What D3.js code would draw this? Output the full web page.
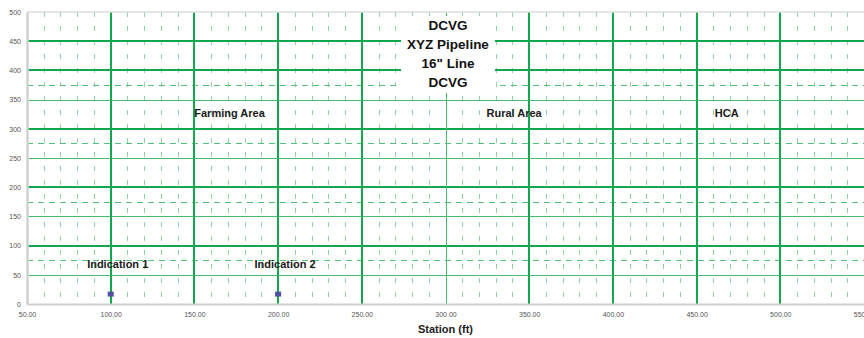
<!DOCTYPE html>
<html>
<head>
<meta charset="utf-8">
<script src="https://cdn.jsdelivr.net/npm/d3@7"></script>
<style>
  html, body { margin: 0; padding: 0; background: #fff; }
  svg { display: block; font-family: "Liberation Sans", Arial, sans-serif; }
</style>
</head>
<body>
<svg id="chart" width="864" height="338"></svg>
<script>
// Station axis and value axis ticks
const xTicks = [50, 100, 150, 200, 250, 300, 350, 400, 450, 500, 550];
const yTicks = [0, 50, 100, 150, 200, 250, 300, 350, 400, 450, 500];

// Horizontal reference lines by style
const heavyRows = [100, 200, 300, 400, 450];
const lightRows = [50, 150, 250, 350];
const dashedRows = [75, 175, 275, 375];

// Vertical station lines by style
const heavyCols = [100, 150, 200, 250, 350, 400, 450, 500];
const lightCols = [300];
const minorCols = d3.range(50, 551, 10).filter(v => v % 50 !== 0);

// DCVG indications
const indicationNames = ["Indication 1", "Indication 2"];
const indicationStations = [100, 200];
const indicationValues = [17, 17];

// Area labels along the line
const areaNames = ["Farming Area", "Rural Area", "HCA"];
const areaStations = [171, 341, 468];
const areaLevel = 327;

const titleLines = ["DCVG", "XYZ Pipeline", "16\" Line", "DCVG"];
const xTitle = "Station (ft)";

const svg = d3.select("#chart");
const plotLeft = 27, plotRight = 864, plotTop = 12, plotBottom = 304;

const x = d3.scaleLinear().domain([50, 550]).range([plotLeft, plotRight]);
const y = d3.scaleLinear().domain([0, 500]).range([plotBottom, plotTop]);
// pixel-snapped positions for crisp thin lines
const xs = d => Math.round(x(d)) + 0.5;
const ys = d => Math.round(y(d)) + 0.5;

const grid = svg.append("g");

// minor vertical dashed lines
grid.selectAll(".minor").data(minorCols).join("line")
  .attr("x1", xs).attr("x2", xs)
  .attr("y1", plotTop).attr("y2", plotBottom)
  .attr("stroke", "#8fd6a6").attr("stroke-width", 1)
  .attr("stroke-dasharray", "5,9");

// dashed horizontal lines
grid.selectAll(".dash").data(dashedRows).join("line")
  .attr("x1", plotLeft).attr("x2", plotRight)
  .attr("y1", ys).attr("y2", ys)
  .attr("stroke", "#52c27a").attr("stroke-width", 1)
  .attr("stroke-dasharray", "6,5");

// light horizontal lines
grid.selectAll(".lrow").data(lightRows).join("line")
  .attr("x1", plotLeft).attr("x2", plotRight)
  .attr("y1", ys).attr("y2", ys)
  .attr("stroke", "#45bd70").attr("stroke-width", 1);

// heavy horizontal lines
grid.selectAll(".hrow").data(heavyRows).join("line")
  .attr("x1", plotLeft).attr("x2", plotRight)
  .attr("y1", d => Math.round(y(d))).attr("y2", d => Math.round(y(d)))
  .attr("stroke", "#12a64d").attr("stroke-width", 2);

// light vertical lines
grid.selectAll(".lcol").data(lightCols).join("line")
  .attr("x1", xs).attr("x2", xs)
  .attr("y1", plotTop).attr("y2", plotBottom)
  .attr("stroke", "#45bd70").attr("stroke-width", 1);

// heavy vertical lines
grid.selectAll(".hcol").data(heavyCols).join("line")
  .attr("x1", d => Math.round(x(d))).attr("x2", d => Math.round(x(d)))
  .attr("y1", plotTop).attr("y2", plotBottom)
  .attr("stroke", "#12a64d").attr("stroke-width", 2);

// plot frame
svg.append("line").attr("x1", plotLeft).attr("x2", plotRight).attr("y1", plotTop).attr("y2", plotTop)
  .attr("stroke", "#dcdcdc").attr("stroke-width", 1.5);

// axes
const yAxis = svg.append("g").attr("transform", `translate(${plotLeft},0)`)
  .call(d3.axisLeft(y).tickValues(yTicks).tickSize(0).tickPadding(6).tickFormat(d3.format("d")));
yAxis.select(".domain").attr("stroke", "#d0d0d0").attr("stroke-width", 2.5);
yAxis.selectAll("text").attr("fill", "#555").style("font-size", "7px");

const xAxis = svg.append("g").attr("transform", `translate(0,${plotBottom})`)
  .call(d3.axisBottom(x).tickValues(xTicks).tickSize(0).tickPadding(8).tickFormat(d3.format(".2f")));
xAxis.select(".domain").attr("stroke", "#d0d0d0").attr("stroke-width", 2);
xAxis.selectAll("text").attr("fill", "#555").style("font-size", "7px");

svg.append("text").attr("x", (plotLeft + plotRight) / 2).attr("y", 333)
  .attr("text-anchor", "middle").style("font-size", "11px").style("font-weight", "bold")
  .attr("fill", "#222").text(xTitle);

// area labels
svg.append("g").selectAll("text").data(areaNames).join("text")
  .attr("x", (d, i) => x(areaStations[i])).attr("y", y(areaLevel)).attr("dy", "0.35em")
  .attr("text-anchor", "middle").style("font-size", "11px").style("font-weight", "bold")
  .attr("fill", "#1a1a1a").text(d => d);

// indication markers and labels
svg.append("g").selectAll("rect").data(indicationStations).join("rect")
  .attr("x", d => x(d) - 3).attr("y", (d, i) => y(indicationValues[i]) - 2.5)
  .attr("width", 6).attr("height", 5).attr("fill", "#4f4fa3");

svg.append("g").selectAll("text").data(indicationNames).join("text")
  .attr("x", (d, i) => x(indicationStations[i]) + 7).attr("y", y(68)).attr("dy", "0.35em")
  .attr("text-anchor", "middle").style("font-size", "11px").style("font-weight", "bold")
  .attr("fill", "#1a1a1a").text(d => d);

// chart title with white backing
const titleX = 448;
const tg = svg.append("g");
tg.append("rect").attr("fill", "#fff")
  .attr("x", titleX - 47).attr("y", 16).attr("width", 94).attr("height", 77);
tg.selectAll("text").data(titleLines).join("text")
  .attr("x", titleX).attr("y", (d, i) => 25 + i * 19.2).attr("dy", "0.35em")
  .attr("text-anchor", "middle").style("font-size", "13.5px").style("font-weight", "bold")
  .attr("fill", "#111").text(d => d);
</script>
</body>
</html>
